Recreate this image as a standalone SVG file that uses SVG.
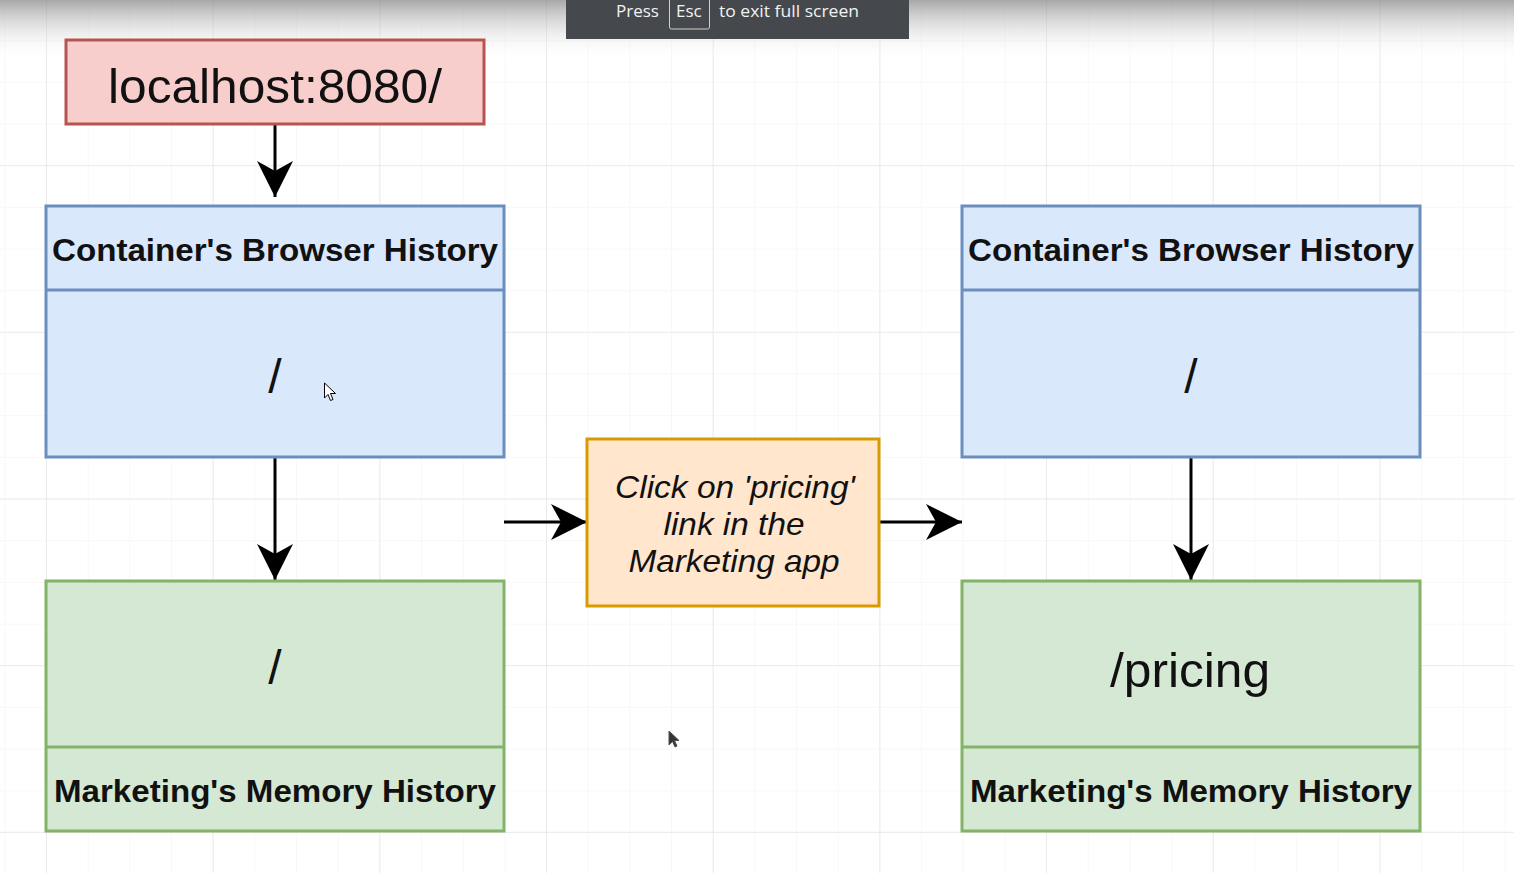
<svg xmlns="http://www.w3.org/2000/svg" width="1514" height="873" viewBox="0 0 1514 873">
<defs>
<pattern id="minor" x="46" y="-1.5" width="41.67" height="41.67" patternUnits="userSpaceOnUse">
<path d="M0,0 V41.67 M0,0 H41.67" fill="none" stroke="#f2f2f2" stroke-width="1"/>
</pattern>
<pattern id="major" x="46" y="-1.5" width="166.67" height="166.67" patternUnits="userSpaceOnUse">
<path d="M0,0 V166.67 M0,0 H166.67" fill="none" stroke="#e6e6e6" stroke-width="1.5"/>
</pattern>
<linearGradient id="topShade" x1="0" y1="0" x2="0" y2="1">
<stop offset="0" stop-color="#8a8a8a" stop-opacity="0.75"/>
<stop offset="1" stop-color="#ffffff" stop-opacity="0"/>
</linearGradient>
<marker id="arr" viewBox="0 0 36 36" refX="36" refY="18" markerWidth="36" markerHeight="36" markerUnits="userSpaceOnUse" orient="auto">
<path d="M0,0 L36,18 L0,36 L10,18 z" fill="#000"/>
</marker>
<style>
.blue{fill:#dae8fc;stroke:#6c8ebf;stroke-width:3}
.green{fill:#d5e8d4;stroke:#82b366;stroke-width:3}
.red{fill:#f8cecc;stroke:#b85450;stroke-width:3}
.orange{fill:#ffe6cc;stroke:#d79b00;stroke-width:3}
.hdr{font-family:"Liberation Sans",Arial,sans-serif;font-weight:bold;font-size:32px;fill:#111;text-anchor:middle}
.big{font-family:"Liberation Sans",Arial,sans-serif;font-size:48px;fill:#111;text-anchor:middle}
.it{font-family:"Liberation Sans",Arial,sans-serif;font-style:italic;font-size:32px;fill:#111;text-anchor:middle}
.conn{stroke:#000;stroke-width:3;fill:none;marker-end:url(#arr)}
.ov{font-family:"Open Sans","Liberation Sans",sans-serif;font-size:17px;fill:#f2f2f2}
</style>
</defs>
<rect width="1514" height="873" fill="#ffffff"/>
<rect width="1514" height="873" fill="url(#minor)"/>
<rect width="1514" height="873" fill="url(#major)"/>
<rect width="1514" height="60" fill="url(#topShade)"/>

<g id="connectors">
<line class="conn" x1="275" y1="124" x2="275" y2="197"/>
<line class="conn" x1="275" y1="457" x2="275" y2="580"/>
<line class="conn" x1="504" y1="522" x2="587" y2="522"/>
<line class="conn" x1="879" y1="522" x2="962" y2="522"/>
<line class="conn" x1="1191" y1="457" x2="1191" y2="580"/>
</g>

<g id="localhost">
<rect class="red" x="66" y="40" width="418" height="84"/>
<text class="big" x="275" y="103" textLength="334" lengthAdjust="spacingAndGlyphs">localhost:8080/</text>
</g>

<g id="left-browser">
<rect class="blue" x="46" y="206" width="458" height="251"/>
<line x1="46" y1="290" x2="504" y2="290" stroke="#6c8ebf" stroke-width="3"/>
<text class="hdr" x="275" y="261" textLength="446" lengthAdjust="spacingAndGlyphs">Container's Browser History</text>
<text class="big" x="275" y="393">/</text>
</g>

<g id="left-memory">
<rect class="green" x="46" y="581" width="458" height="250"/>
<line x1="46" y1="747" x2="504" y2="747" stroke="#82b366" stroke-width="3"/>
<text class="big" x="275" y="684">/</text>
<text class="hdr" x="275" y="802" textLength="442" lengthAdjust="spacingAndGlyphs">Marketing's Memory History</text>
</g>

<g id="click">
<rect class="orange" x="587" y="439" width="292" height="167"/>
<text class="it" x="735" y="498" textLength="240" lengthAdjust="spacingAndGlyphs">Click on 'pricing'</text>
<text class="it" x="734" y="535" textLength="141" lengthAdjust="spacingAndGlyphs">link in the</text>
<text class="it" x="734" y="572" textLength="211" lengthAdjust="spacingAndGlyphs">Marketing app</text>
</g>

<g id="right-browser">
<rect class="blue" x="962" y="206" width="458" height="251"/>
<line x1="962" y1="290" x2="1420" y2="290" stroke="#6c8ebf" stroke-width="3"/>
<text class="hdr" x="1191" y="261" textLength="446" lengthAdjust="spacingAndGlyphs">Container's Browser History</text>
<text class="big" x="1191" y="393">/</text>
</g>

<g id="right-memory">
<rect class="green" x="962" y="581" width="458" height="250"/>
<line x1="962" y1="747" x2="1420" y2="747" stroke="#82b366" stroke-width="3"/>
<text class="big" x="1190" y="687" textLength="160" lengthAdjust="spacingAndGlyphs">/pricing</text>
<text class="hdr" x="1191" y="802" textLength="442" lengthAdjust="spacingAndGlyphs">Marketing's Memory History</text>
</g>

<g id="overlay">
<rect x="566" y="0" width="343" height="39" fill="#45484d"/>
<text class="ov" x="616" y="17">Press</text>
<rect x="669.5" y="-4" width="40" height="33" rx="2" fill="none" stroke="#d0d0d0" stroke-width="1"/>
<text class="ov" x="676" y="17">Esc</text>
<text class="ov" x="719" y="17" textLength="140" lengthAdjust="spacingAndGlyphs">to exit full screen</text>
</g>

<g id="cursors">
<path d="M324.5,383 L324.5,398 L328,394.5 L330.5,400.5 L333,399.5 L330.5,393.5 L335.5,393.5 Z" fill="#fff" stroke="#000" stroke-width="1"/>
<path d="M669,731 L669,745 L672.5,741.5 L675,747 L677,746 L674.5,740.5 L679,740.5 Z" fill="#111" stroke="#333" stroke-width="1" opacity="0.85"/>
</g>
</svg>
